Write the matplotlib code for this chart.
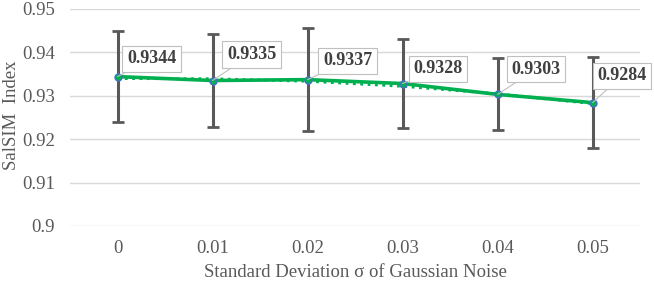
import numpy as np
import matplotlib.pyplot as plt

plt.rcParams['font.family'] = ['Liberation Serif', 'DejaVu Serif']

# data
sigma_labels = ['0', '0.01', '0.02', '0.03', '0.04', '0.05']
salsim_mean = [0.9344, 0.9335, 0.9337, 0.9328, 0.9303, 0.9284]
salsim_std = [0.0104, 0.0106, 0.0118, 0.0102, 0.0083, 0.0105]
# label offsets (pixels) from each point
label_dx = [34, 39, 40, 35, 38, 29]
label_dy = [18, 26, 19, 15, 25, 27]

x = np.arange(len(sigma_labels))

fig = plt.figure(figsize=(6.54, 2.86), dpi=100)
ax = fig.add_axes([0.107, 0.21, 0.872, 0.759])

ax.errorbar(x, salsim_mean, yerr=salsim_std, fmt='none', ecolor='#595959',
            elinewidth=2.2, capsize=4, capthick=2, zorder=2)

# trendline (dotted) under the data line
coef = np.polyfit(x, salsim_mean, 2)
ax.plot(x, np.polyval(coef, x) - 0.0002, color='#00B050', lw=2, ls=':', zorder=3)
ax.plot(x, salsim_mean, color='#00B050', lw=2.6, zorder=4,
        marker='o', markersize=5, markerfacecolor='#00B050',
        markeredgecolor='#4472C4', markeredgewidth=1)

for i, v in enumerate(salsim_mean):
    ax.annotate(f'{v:.4f}', xy=(x[i], v), xytext=(label_dx[i], label_dy[i]),
                textcoords='offset pixels', ha='center', va='center',
                fontsize=13, fontweight='bold', color='#404040',
                bbox=dict(boxstyle='square,pad=0.25', fc='white', ec='#bfbfbf', lw=0.8),
                arrowprops=dict(arrowstyle='-', color='#bfbfbf', lw=0.8,
                                shrinkA=0, shrinkB=0),
                zorder=5)

ax.set_xlim(-0.5, len(x) - 0.5)
ax.set_ylim(0.9, 0.95)
ax.set_yticks([0.9, 0.91, 0.92, 0.93, 0.94, 0.95])
ax.set_yticklabels(['0.9', '0.91', '0.92', '0.93', '0.94', '0.95'])
ax.set_xticks(x)
ax.set_xticklabels(sigma_labels)
ax.tick_params(length=0, labelsize=13.5, labelcolor='#595959')
ax.tick_params(axis='y', pad=11)
ax.tick_params(axis='x', pad=10)
ax.grid(axis='y', color='#d9d9d9', lw=1)
ax.set_axisbelow(True)
for s in ax.spines.values():
    s.set_visible(False)

ax.set_xlabel('Standard Deviation σ of Gaussian Noise', fontsize=13.5, color='#595959', labelpad=5)
ax.set_ylabel('SalSIM  Index', fontsize=13.5, color='#595959')
ax.yaxis.set_label_coords(-0.088, 0.51)

fig.savefig('out.png', dpi=100)
